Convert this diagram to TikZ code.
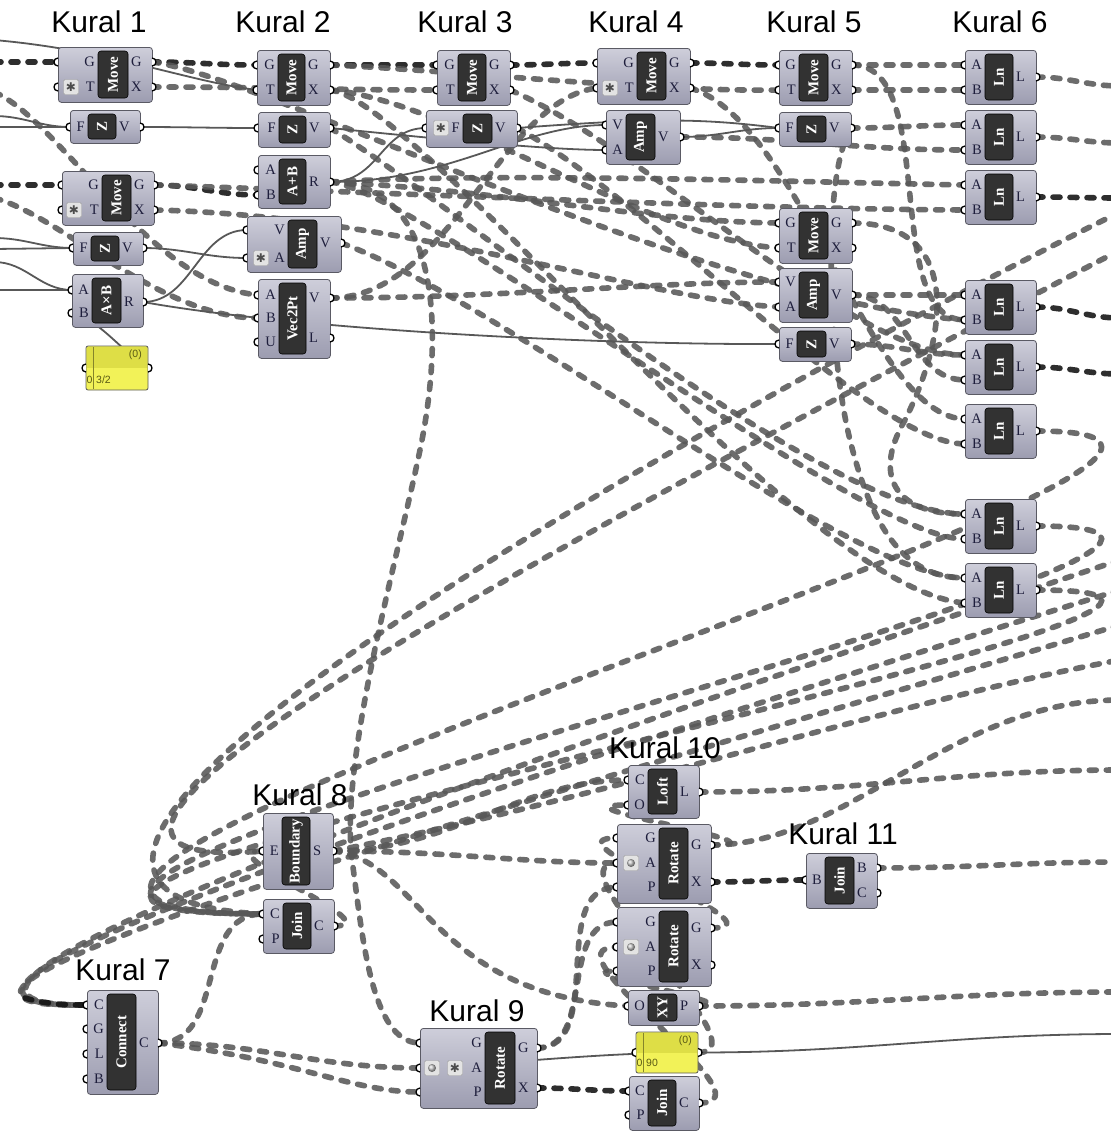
\documentclass[tikz,border=0pt]{standalone}
\usepackage{fontspec}
\setmainfont{Liberation Serif}
\newfontfamily\kuralfont{Liberation Sans}
\newfontfamily\symbfont{DejaVu Sans}
\pgfdeclarelayer{wires}
\pgfsetlayers{wires,main}

\definecolor{ghtop}{RGB}{206,206,218}
\definecolor{ghbot}{RGB}{156,156,176}
\definecolor{ghedge}{RGB}{90,90,100}
\definecolor{ghdark}{RGB}{50,50,50}
\definecolor{portink}{RGB}{30,30,60}
\definecolor{wiregray}{RGB}{88,88,88}
\definecolor{wiredark}{RGB}{18,18,18}
\definecolor{panelyel}{RGB}{242,242,88}
\definecolor{paneltop}{RGB}{222,222,70}
\definecolor{panelink}{RGB}{90,90,20}

\tikzset{
  ghbox/.style={draw=ghedge, line width=0.8pt, rounded corners=3pt, top color=ghtop, bottom color=ghbot, inner sep=0pt},
  ghbar/.style={draw=black, line width=0.6pt, fill=ghdark, rounded corners=3pt, inner sep=0pt, text=white, font=\bfseries\fontsize{15}{15}\selectfont},
  ghport/.style={draw=black, fill=white, line width=1.3pt},
  ghicon/.style={draw=gray!75, fill=gray!22, rounded corners=1.5pt, minimum size=15pt, inner sep=0pt},
  portlbl/.style={inner sep=0pt, text=portink, font=\fontsize{14.5}{14.5}\selectfont},
  panellbl/.style={inner sep=0pt, text=panelink, font=\kuralfont\fontsize{10.5}{10.5}\selectfont},
  kural/.style={inner sep=0pt, font=\kuralfont\fontsize{30}{30}\selectfont},
  gh/.style={out=0, in=180},
  wdash/.style={draw=wiregray, line width=5.6pt, line cap=round, dash pattern=on 7pt off 10pt, draw opacity=0.88},
  wsel/.style={wdash, draw=wiredark},
  wsolid/.style={draw=wiregray, line width=1.8pt},
}

% component: name, x, y, width, height, bar offset, bar width, text
\newcommand{\ghcomp}[8]{%
  \pgfmathsetmacro\ghxl{#2}\pgfmathsetmacro\ghxr{#2+#4}%
  \pgfmathsetmacro\ghbl{#2+#6}\pgfmathsetmacro\ghbr{#2+#6+#7}%
  \node[ghbox, minimum width=#4, minimum height=#5, anchor=north west] (#1) at (#2,#3) {};
  \node[ghbar, minimum width=#5-8, minimum height=#7, rotate=90] (#1-bar) at (#2+#6+#7/2,#3+#5/2) {#8};
}
\newcommand{\ghsemiL}[2]{\draw[ghport] (#1,#2-4) .. controls (#1-5.3,#2-4) and (#1-5.3,#2+4) .. (#1,#2+4);}
\newcommand{\ghsemiR}[2]{\draw[ghport] (#1,#2-4) .. controls (#1+5.3,#2-4) and (#1+5.3,#2+4) .. (#1,#2+4);}
\newcommand{\ghin}[3]{%
  \coordinate (#1) at (\ghxl,#2);
  \ghsemiL{\ghxl}{#2}
  \node[portlbl, anchor=east] at (\ghbl-3,#2) {#3};
}
\newcommand{\ghout}[3]{%
  \coordinate (#1) at (\ghxr,#2);
  \ghsemiR{\ghxr}{#2}
  \node[portlbl, anchor=west] at (\ghbr+3,#2) {#3};
}
\newcommand{\ghstar}[2]{\node[ghicon] at (#1,#2) {\symbfont\fontsize{12}{12}\selectfont\textcolor{gray!60!black}{✱}};}
\newcommand{\ghdial}[2]{\node[ghicon] at (#1,#2) {}; \shade[ball color=gray!45] (#1,#2) circle[radius=4pt];}
% panel: name, x, y, width, height, value
\newcommand{\ghpanel}[6]{%
  \node[fill=panelyel, rounded corners=2pt, minimum width=#4, minimum height=#5, anchor=north west, inner sep=0pt] (#1) at (#2,#3) {};
  \fill[paneltop] (#2+1,#3+1) rectangle (#2+#4-1,#3+#5/2);
  \draw[paneltop!60!black, line width=0.4pt] (#2+7,#3+1) -- (#2+7,#3+#5-1);
  \draw[black!65, line width=0.8pt, rounded corners=2pt] (#2,#3) rectangle (#2+#4,#3+#5);
  \node[panellbl, anchor=east] at (#2+#4-6,#3+9) {(0)};
  \node[panellbl] at (#2+3.5,#3+#5-10) {0};
  \node[panellbl, anchor=west] at (#2+10,#3+#5-10) {#6};
  \coordinate (#1-in) at (#2,#3+#5/2);
  \coordinate (#1-out) at (#2+#4,#3+#5/2);
  \ghsemiL{#2}{#3+#5/2}
  \ghsemiR{#2+#4}{#3+#5/2}
}

\begin{document}
\begin{tikzpicture}[x=1pt,y=-1pt]
\useasboundingbox (0,0) rectangle (1111,1133);

% Kural 1
\ghcomp{m1a}{58}{47}{94}{55}{40}{30}{Move}
\ghin{m1a-g}{62}{G}\ghin{m1a-t}{87}{T}\ghout{m1a-g-out}{62}{G}\ghout{m1a-x-out}{87}{X}\ghstar{71}{87}
\ghcomp{z1a}{70}{110}{70}{33}{18}{28}{Z}
\ghin{z1a-f}{127}{F}\ghout{z1a-v}{127}{V}
\ghcomp{m1b}{62}{171}{92}{54}{40}{29}{Move}
\ghin{m1b-g}{185}{G}\ghin{m1b-t}{210}{T}\ghout{m1b-g-out}{185}{G}\ghout{m1b-x-out}{210}{X}\ghstar{74}{210}
\ghcomp{z1b}{73}{232}{70}{33}{18}{28}{Z}
\ghin{z1b-f}{248}{F}\ghout{z1b-v}{248}{V}
\ghcomp{mul1}{72}{274}{71}{53}{20}{29}{A×B}
\ghin{mul1-a}{290}{A}\ghin{mul1-b}{313}{B}\ghout{mul1-r}{302}{R}
\ghpanel{pnl1}{86}{346}{62}{44}{3/2}

% Kural 2
\ghcomp{m2}{257}{50}{73}{55}{21}{27}{Move}
\ghin{m2-g}{65}{G}\ghin{m2-t}{90}{T}\ghout{m2-g-out}{65}{G}\ghout{m2-x-out}{90}{X}
\ghcomp{z2}{258}{112}{72}{35}{21}{27}{Z}
\ghin{z2-f}{128}{F}\ghout{z2-v}{128}{V}
\ghcomp{add2}{258}{155}{72}{53}{21}{27}{A+B}
\ghin{add2-a}{170}{A}\ghin{add2-b}{195}{B}\ghout{add2-r}{182}{R}
\ghcomp{amp2}{247}{216}{94}{56}{41}{29}{Amp}
\ghin{amp2-v}{230}{V}\ghin{amp2-a}{258}{A}\ghout{amp2-v-out}{243}{V}\ghstar{261}{258}
\ghcomp{vec2}{258}{279}{72}{79}{21}{27}{Vec2Pt}
\ghin{vec2-a}{295}{A}\ghin{vec2-b}{318}{B}\ghin{vec2-u}{342}{U}\ghout{vec2-v}{298}{V}\ghout{vec2-l}{338}{L}

% Kural 3
\ghcomp{m3}{437}{50}{73}{55}{21}{28}{Move}
\ghin{m3-g}{65}{G}\ghin{m3-t}{90}{T}\ghout{m3-g-out}{65}{G}\ghout{m3-x-out}{90}{X}
\ghcomp{z3}{426}{110}{91}{37}{37}{29}{Z}
\ghin{z3-f}{128}{F}\ghout{z3-v}{128}{V}\ghstar{441}{128}

% Kural 4
\ghcomp{m4}{597}{48}{93}{56}{40}{29}{Move}
\ghin{m4-g}{63}{G}\ghin{m4-t}{88}{T}\ghout{m4-g-out}{63}{G}\ghout{m4-x-out}{88}{X}\ghstar{610}{88}
\ghcomp{amp4}{606}{110}{74}{54}{20}{29}{Amp}
\ghin{amp4-v}{125}{V}\ghin{amp4-a}{150}{A}\ghout{amp4-v-out}{137}{V}

% Kural 5
\ghcomp{m5a}{779}{50}{73}{55}{20}{29}{Move}
\ghin{m5a-g}{65}{G}\ghin{m5a-t}{90}{T}\ghout{m5a-g-out}{65}{G}\ghout{m5a-x-out}{90}{X}
\ghcomp{z5a}{779}{112}{72}{34}{18}{29}{Z}
\ghin{z5a-f}{128}{F}\ghout{z5a-v}{128}{V}
\ghcomp{m5b}{779}{208}{73}{55}{20}{29}{Move}
\ghin{m5b-g}{223}{G}\ghin{m5b-t}{248}{T}\ghout{m5b-g-out}{223}{G}\ghout{m5b-x-out}{248}{X}
\ghcomp{amp5}{779}{268}{73}{54}{20}{29}{Amp}
\ghin{amp5-v}{282}{V}\ghin{amp5-a}{307}{A}\ghout{amp5-v-out}{295}{V}
\ghcomp{z5b}{779}{327}{72}{34}{18}{29}{Z}
\ghin{z5b-f}{344}{F}\ghout{z5b-v}{344}{V}

% Kural 6
\foreach \i/\t in {1/50,2/110,3/170,4/280,5/340,6/404,7/499,8/563}{
  \ghcomp{ln\i}{965}{\t}{71}{54}{20}{28}{Ln}
  \ghin{ln\i-a}{\t+15}{A}\ghin{ln\i-b}{\t+40}{B}\ghout{ln\i-l}{\t+27}{L}
}

% Kural 7
\ghcomp{con7}{87}{990}{71}{104}{20}{29}{Connect}
\ghin{con7-c}{1005}{C}\ghin{con7-g}{1029}{G}\ghin{con7-l}{1054}{L}\ghin{con7-b}{1079}{B}\ghout{con7-c-out}{1043}{C}

% Kural 8
\ghcomp{bnd8}{263}{813}{70}{76}{19}{28}{Boundary}
\ghin{bnd8-e}{851}{E}\ghout{bnd8-s}{851}{S}
\ghcomp{join8}{263}{899}{71}{54}{20}{28}{Join}
\ghin{join8-c}{914}{C}\ghin{join8-p}{939}{P}\ghout{join8-c-out}{926}{C}

% Kural 9
\ghcomp{rot9}{420}{1028}{117}{80}{65}{30}{Rotate}
\ghin{rot9-g}{1043}{G}\ghin{rot9-a}{1068}{A}\ghin{rot9-p}{1092}{P}\ghout{rot9-g-out}{1048}{G}\ghout{rot9-x-out}{1088}{X}
\ghdial{432}{1068}\ghstar{455}{1068}

% Kural 10
\ghcomp{loft10}{628}{765}{71}{53}{20}{29}{Loft}
\ghin{loft10-c}{780}{C}\ghin{loft10-o}{805}{O}\ghout{loft10-l}{792}{L}
\ghcomp{rot10a}{617}{824}{94}{79}{42}{29}{Rotate}
\ghin{rot10a-g}{838}{G}\ghin{rot10a-a}{863}{A}\ghin{rot10a-p}{887}{P}\ghout{rot10a-g-out}{845}{G}\ghout{rot10a-x-out}{882}{X}\ghdial{631}{863}
\ghcomp{rot10b}{617}{907}{94}{79}{42}{29}{Rotate}
\ghin{rot10b-g}{922}{G}\ghin{rot10b-a}{947}{A}\ghin{rot10b-p}{971}{P}\ghout{rot10b-g-out}{928}{G}\ghout{rot10b-x-out}{965}{X}\ghdial{631}{947}
\ghcomp{xy10}{628}{990}{71}{35}{20}{29}{XY}
\ghin{xy10-o}{1006}{O}\ghout{xy10-p-out}{1006}{P}
\ghpanel{pnl10}{636}{1032}{62}{41}{90}
\ghcomp{join10}{629}{1076}{70}{54}{19}{28}{Join}
\ghin{join10-c}{1091}{C}\ghin{join10-p}{1115}{P}\ghout{join10-c-out}{1103}{C}

% Kural 11
\ghcomp{join11}{806}{853}{71}{55}{19}{29}{Join}
\ghin{join11-b}{880}{B}\ghout{join11-b-out}{868}{B}\ghout{join11-c-out}{893}{C}

% titles
\node[kural] (k1) at (99,22) {Kural 1};
\node[kural] (k2) at (283,22) {Kural 2};
\node[kural] (k3) at (465,22) {Kural 3};
\node[kural] (k4) at (636,22) {Kural 4};
\node[kural] (k5) at (814,22) {Kural 5};
\node[kural] (k6) at (1000,22) {Kural 6};
\node[kural] (k7) at (123,970) {Kural 7};
\node[kural] (k8) at (300,795) {Kural 8};
\node[kural] (k9) at (477,1011) {Kural 9};
\node[kural] (k10) at (665,748) {Kural 10};
\node[kural] (k11) at (843,834) {Kural 11};

\begin{pgfonlayer}{wires}
\fill[white] (0,0) rectangle (1111,1133);
\clip (0,0) rectangle (1111,1133);
% free ends outside the canvas
\coordinate (lft1) at (-6,62);   \coordinate (lft2) at (-6,185);
\coordinate (lft3) at (-6,40);   \coordinate (lft4) at (-6,116);
\coordinate (lft5) at (-6,127);  \coordinate (lft6) at (-6,238);
\coordinate (lft7) at (-6,249);  \coordinate (lft8) at (-6,262);
\coordinate (lft9) at (-6,290);  \coordinate (lft10) at (-6,92);
\coordinate (lft11) at (-6,198);
\coordinate (rgt1) at (1120,86);   \coordinate (rgt2) at (1120,143);
\coordinate (rgt3) at (1120,198);  \coordinate (rgt4) at (1120,318);
\coordinate (rgt5) at (1120,374);  \coordinate (rgt6) at (1120,212);
\coordinate (rgt7) at (1120,250);  \coordinate (rgt8) at (1120,560);
\coordinate (rgt9) at (1120,590);  \coordinate (rgt10) at (1120,625);
\coordinate (rgt11) at (1120,770); \coordinate (rgt12) at (1120,862);
\coordinate (rgt13) at (1120,992); \coordinate (rgt14) at (1120,1034);
\coordinate (rgt15) at (1120,660); \coordinate (rgt16) at (1120,700);

% Kural 1 inputs
\draw[wsel] (lft1) -- (m1a-g);
\draw[wsel] (lft2) -- (m1b-g);
\draw[wsolid] (lft3) .. controls (110,50) and (190,82) .. (m2-t);
\draw[wsolid] (lft4) to[gh] (z1a-f);
\draw[wsolid] (lft5) -- (z1a-f);
\draw[wsolid] (lft6) to[gh] (z1b-f);
\draw[wsolid] (lft7) -- (z1b-f);
\draw[wsolid] (lft8) to[gh] (mul1-a);
\draw[wsolid] (lft9) -- (mul1-a);
\draw[wdash] (lft10) .. controls (60,120) and (150,285) .. (vec2-a);
\draw[wdash] (lft11) .. controls (60,215) and (160,318) .. (vec2-b);
\draw[wsolid] (pnl1-out) .. controls (120,350) and (100,320) .. (mul1-b);

% solid wires, top
\draw[wsolid] (z1a-v) to[gh] (z2-f);
\draw[wsolid] (z1b-v) to[gh] (amp2-a);
\draw[wsolid] (mul1-r) to[gh] (amp2-v);
\draw[wsolid] (mul1-r) .. controls (300,330) and (600,345) .. (z5b-f);
\draw[wsolid] (z2-v) .. controls (450,140) and (550,150) .. (amp4-a);
\draw[wsolid] (add2-r) .. controls (380,182) and (380,128) .. (z3-f);
\draw[wsolid] (add2-r) .. controls (450,182) and (520,125) .. (amp4-v);
\draw[wsolid] (z3-v) .. controls (650,118) and (700,118) .. (z5a-f);
\draw[wsolid] (amp4-v-out) to[gh] (z5a-f);

% Move chain
\draw[wsel] (m1a-g-out) to[gh] (m2-g);
\draw[wsel] (m2-g-out) to[gh] (m3-g);
\draw[wsel] (m3-g-out) to[gh] (m4-g);
\draw[wsel] (m4-g-out) to[gh] (m5a-g);
\draw[wsel] (m1b-g-out) to[gh] (add2-b);

% dashed, top band
\draw[wdash] (m1a-x-out) to[gh] (m3-t);
\draw[wdash] (m1a-g-out) .. controls (260,75) and (700,300) .. (ln4-b);
\draw[wdash] (m2-g-out) .. controls (450,70) and (650,92) .. (m5a-t);
\draw[wdash] (m2-x-out) .. controls (450,100) and (650,240) .. (m5b-t);
\draw[wdash] (m2-x-out) .. controls (420,100) and (800,590) .. (ln8-b);
\draw[wdash] (m1b-g-out) .. controls (450,195) and (750,209) .. (ln3-b);
\draw[wdash] (add2-r) .. controls (500,172) and (800,182) .. (ln3-a);
\draw[wdash] (add2-r) .. controls (500,190) and (650,222) .. (m5b-g);
\draw[wdash] (m1b-x-out) .. controls (400,215) and (650,300) .. (amp5-a);
\draw[wdash] (vec2-v) .. controls (450,298) and (500,100) .. (m4-t);
\draw[wdash] (vec2-v) .. controls (500,298) and (650,282) .. (amp5-v);
\draw[wdash] (m3-x-out) .. controls (650,150) and (850,355) .. (ln5-a);
\draw[wdash] (m4-x-out) .. controls (800,120) and (870,418) .. (ln6-a);
\draw[wdash] (z3-v) .. controls (650,200) and (870,443) .. (ln6-b);
\draw[wdash] (z2-v) .. controls (450,200) and (820,515) .. (ln7-a);
\draw[wdash] (amp2-v-out) .. controls (500,300) and (850,578) .. (ln8-a);
\draw[wdash] (add2-r) .. controls (420,190) and (860,540) .. (ln7-b);
\draw[wdash] (amp4-v-out) to[gh] (ln2-b);

% Kural 5 to Kural 6
\draw[wdash] (m5a-g-out) to[gh] (ln1-a);
\draw[wdash] (m5a-x-out) to[gh] (ln1-b);
\draw[wdash] (z5a-v) to[gh] (ln2-a);
\draw[wdash] (amp5-v-out) to[gh] (ln4-a);
\draw[wdash] (amp5-v-out) to[gh] (ln5-b);
\draw[wdash] (z5b-v) to[gh] (ln5-a);
\draw[wdash] (m5a-g-out) .. controls (940,65) and (880,320) .. (ln4-b);
\draw[wdash] (m5b-g-out) .. controls (960,223) and (950,330) .. (905,420)
  .. controls (870,480) and (900,515) .. (ln7-a);
\draw[wdash] (z5a-v) .. controls (820,180) and (830,360) .. (850,440)
  .. controls (870,520) and (900,578) .. (ln8-a);

% Kural 6 outputs
\draw[wdash] (ln1-l) to[gh] (rgt1);
\draw[wdash] (ln2-l) to[gh] (rgt2);
\draw[wsel] (ln3-l) to[gh] (rgt3);
\draw[wsel] (ln4-l) to[gh] (rgt4);
\draw[wsel] (ln5-l) to[gh] (rgt5);
\draw[wdash] (ln6-l) .. controls +(420,0) and (-300,914) .. (join8-c);
\draw[wdash] (ln7-l) .. controls +(420,0) and (-300,914) .. (join8-c);
\draw[wdash] (ln8-l) .. controls +(420,0) and (-300,914) .. (join8-c);

% long wires into Kural 7 and 8
\draw[wdash] (rgt6) .. controls (700,420) and (-150,895) .. (join8-c);
\draw[wdash] (rgt7) .. controls (700,470) and (-100,880) .. (bnd8-e);
\draw[wdash] (rgt8) .. controls (700,700) and (-220,1008) .. (con7-c);
\draw[wdash] (rgt9) .. controls (700,720) and (-230,1010) .. (con7-c);
\draw[wdash] (rgt10) .. controls (720,745) and (-240,1012) .. (con7-c);
\draw[wsel] (25,998) .. controls (45,1004) and (65,1005) .. (con7-c);

% Kural 7 and 8
\draw[wdash] (con7-c-out) .. controls +(70,0) and +(-70,0) .. (join8-c);
\draw[wdash] (con7-c-out) to[gh] (rot9-a);
\draw[wdash] (con7-c-out) .. controls (300,1060) and (350,1092) .. (rot9-p);
\draw[wdash] (join8-c-out) .. controls +(60,0) and +(-60,0) .. (bnd8-e);
\draw[wdash] (bnd8-s) .. controls (450,851) and (520,780) .. (loft10-c);
\draw[wdash] (bnd8-s) .. controls (450,851) and (520,863) .. (rot10a-a);
\draw[wdash] (bnd8-s) .. controls (420,860) and (430,995) .. (xy10-o);
\draw[wdash] (bnd8-s) .. controls (600,800) and (900,700) .. (rgt15);
\draw[wdash] (add2-r) .. controls (440,182) and (445,330) .. (420,450)
  .. controls (395,570) and (340,760) .. (352,860)
  .. controls (362,930) and (370,1043) .. (rot9-g);

% Kural 9
\draw[wsel] (rot9-x-out) to[gh] (join10-c);
\draw[wdash] (rot9-g-out) to[gh] (rot10b-g);
\draw[wdash] (rot9-g-out) to[gh] (rot10a-p);
\draw[wsolid] (pnl10-out) .. controls (600,1052) and (480,1066) .. (rot9-a);
\draw[wsolid] (pnl10-out) to[gh] (rgt14);

% Kural 10 and 11
\draw[wdash] (loft10-l) to[gh] (rgt11);
\draw[wdash] (rot10a-g-out) .. controls +(90,0) and +(-90,0) .. (loft10-o);
\draw[wdash] (rot10b-g-out) .. controls +(80,0) and +(-80,0) .. (rot10a-g);
\draw[wdash] (join10-c-out) .. controls +(80,0) and +(-80,0) .. (rot10b-a);
\draw[wdash] (pnl10-out) .. controls +(70,0) and +(-70,0) .. (rot10a-a);
\draw[wdash] (xy10-p-out) .. controls +(60,0) and +(-60,0) .. (rot10b-p);
\draw[wdash] (xy10-p-out) to[gh] (rgt13);
\draw[wsel] (rot10a-x-out) to[gh] (join11-b);
\draw[wdash] (join11-b-out) to[gh] (rgt12);
\draw[wdash] (rot10a-g-out) .. controls (850,845) and (950,700) .. (rgt16);
\end{pgfonlayer}
\end{tikzpicture}
\end{document}
